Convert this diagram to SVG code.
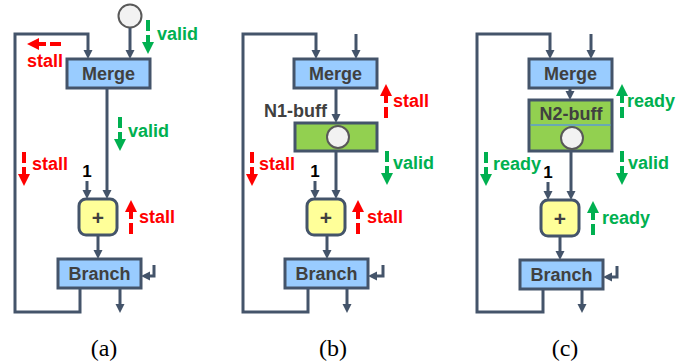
<svg xmlns="http://www.w3.org/2000/svg" xmlns:xlink="http://www.w3.org/1999/xlink" width="688" height="364" viewBox="0 0 688 364">
<style>
.wire{fill:none;stroke:#44546A;stroke-width:3;stroke-linejoin:miter}
.arr{marker-end:url(#ah)}
.box{fill:#99CCFF;stroke:#44546A;stroke-width:3}
.buf{fill:#92D050;stroke:#44546A;stroke-width:3}
.add{fill:#FFFF99;stroke:#44546A;stroke-width:3}
.tok{fill:#F2F2F2;stroke:#595959;stroke-width:2}
.bt{font-family:"Liberation Sans",Arial,sans-serif;font-weight:bold;font-size:18px;fill:#404040;text-anchor:middle}
.lab{font-family:"Liberation Sans",Arial,sans-serif;font-weight:bold;font-size:18px}
.red{fill:#FF0000}
.grn{fill:#00B050}
.one{font-family:"Liberation Sans",Arial,sans-serif;font-weight:bold;font-size:17px;fill:#000;text-anchor:middle}
.cap{font-family:"Liberation Serif","Times New Roman",serif;font-size:24px;fill:#000;text-anchor:middle}
.pl{font-size:21px}
</style>
<defs>
<marker id="ah" markerUnits="userSpaceOnUse" markerWidth="10" markerHeight="10" refX="4" refY="4.5" orient="auto">
<path d="M0,0 L9,4.5 L0,9 z" fill="#44546A"/>
</marker>
<g id="sig">
<rect x="-2" y="0" width="4" height="11"/>
<rect x="-2" y="15" width="4" height="9"/>
<polygon points="-6,22 6,22 0,34"/>
</g>
</defs>

<!-- Panel (a) -->
<g id="a-merge"><rect class="box" x="67" y="59" width="83" height="29"/><text class="bt" x="108.5" y="80">Merge</text></g>
<g id="a-token"><circle class="tok" cx="130" cy="16" r="11.5"/></g>
<g id="a-add"><rect class="add" x="79" y="199" width="38" height="36" rx="7"/><text class="bt pl" x="98" y="225">+</text></g>
<g id="a-branch"><rect class="box" x="58" y="259" width="83" height="29"/><text class="bt" x="99.5" y="280">Branch</text></g>
<g id="a-one"><text class="one" x="87" y="177">1</text></g>
<g id="a-connectors">
<polyline class="wire arr" points="80,288 80,312 15,312 15,34 88,34 88,54"/>
<line class="wire arr" x1="130" y1="28" x2="130" y2="54"/>
<line class="wire arr" x1="107" y1="88" x2="107" y2="194"/>
<line class="wire arr" x1="87" y1="181" x2="87" y2="194"/>
<line class="wire arr" x1="98" y1="235" x2="98" y2="254"/>
<polyline class="wire arr" points="154,265 154,276 146,276"/>
<line class="wire arr" x1="120" y1="288" x2="120" y2="308"/>
</g>
<g id="a-signals">
<use xlink:href="#sig" href="#sig" class="grn" transform="translate(148,20)"/>
<text class="lab grn" x="157" y="40">valid</text>
<use xlink:href="#sig" href="#sig" class="grn" transform="translate(120,117)"/>
<text class="lab grn" x="128" y="137">valid</text>
<use xlink:href="#sig" href="#sig" class="red" transform="translate(61,44) rotate(90)"/>
<text class="lab red" x="27" y="67">stall</text>
<use xlink:href="#sig" href="#sig" class="red" transform="translate(24,152)"/>
<text class="lab red" x="32" y="170">stall</text>
<use xlink:href="#sig" href="#sig" class="red" transform="translate(131,234) rotate(180)"/>
<text class="lab red" x="139" y="223">stall</text>
</g>
<text class="cap" x="104" y="356">(a)</text>

<!-- Panel (b) -->
<g id="b-merge"><rect class="box" x="294" y="59" width="83" height="29"/><text class="bt" x="335.5" y="80">Merge</text></g>
<g id="b-buff"><rect class="buf" x="295" y="123" width="82" height="28"/><circle class="tok" cx="338" cy="137" r="11"/><text class="lab" x="264" y="117" style="fill:#404040">N1-buff</text></g>
<g id="b-add"><rect class="add" x="307" y="199" width="38" height="36" rx="7"/><text class="bt pl" x="326" y="225">+</text></g>
<g id="b-branch"><rect class="box" x="285" y="259" width="83" height="29"/><text class="bt" x="326.5" y="280">Branch</text></g>
<g id="b-one"><text class="one" x="315" y="177">1</text></g>
<g id="b-connectors">
<polyline class="wire arr" points="308,288 308,312 243,312 243,34 316,34 316,54"/>
<line class="wire arr" x1="356" y1="34" x2="356" y2="54"/>
<line class="wire arr" x1="336" y1="88" x2="336" y2="118"/>
<line class="wire arr" x1="336" y1="151" x2="336" y2="194"/>
<line class="wire arr" x1="315" y1="181" x2="315" y2="194"/>
<line class="wire arr" x1="327" y1="235" x2="327" y2="254"/>
<polyline class="wire arr" points="383,265 383,276 373,276"/>
<line class="wire arr" x1="347" y1="288" x2="347" y2="308"/>
</g>
<g id="b-signals">
<use xlink:href="#sig" href="#sig" class="red" transform="translate(386,118) rotate(180)"/>
<text class="lab red" x="393" y="107">stall</text>
<use xlink:href="#sig" href="#sig" class="grn" transform="translate(387,151)"/>
<text class="lab grn" x="393" y="169">valid</text>
<use xlink:href="#sig" href="#sig" class="red" transform="translate(252,152)"/>
<text class="lab red" x="259" y="170">stall</text>
<use xlink:href="#sig" href="#sig" class="red" transform="translate(358,234) rotate(180)"/>
<text class="lab red" x="367" y="223">stall</text>
</g>
<text class="cap" x="333" y="356">(b)</text>

<!-- Panel (c) -->
<g id="c-merge"><rect class="box" x="529" y="59" width="83" height="29"/><text class="bt" x="570.5" y="80">Merge</text></g>
<g id="c-buff"><rect class="buf" x="529" y="100" width="83" height="51"/><line x1="530.5" y1="125" x2="610.5" y2="125" stroke="#5B9BD5" stroke-width="1.5"/><text class="bt" x="571" y="120">N2-buff</text><circle class="tok" cx="572" cy="138" r="11"/></g>
<g id="c-add"><rect class="add" x="541" y="200" width="38" height="36" rx="7"/><text class="bt pl" x="560" y="226">+</text></g>
<g id="c-branch"><rect class="box" x="520" y="260" width="83" height="29"/><text class="bt" x="561.5" y="281">Branch</text></g>
<g id="c-one"><text class="one" x="548" y="178">1</text></g>
<g id="c-connectors">
<polyline class="wire arr" points="543,289 543,312 477,312 477,34 550,34 550,54"/>
<line class="wire arr" x1="591" y1="34" x2="591" y2="54"/>
<line class="wire arr" x1="570" y1="88" x2="570" y2="95"/>
<line class="wire arr" x1="571" y1="151" x2="571" y2="195"/>
<line class="wire arr" x1="548" y1="182" x2="548" y2="195"/>
<line class="wire arr" x1="560" y1="236" x2="560" y2="255"/>
<polyline class="wire arr" points="617,266 617,277 608,277"/>
<line class="wire arr" x1="582" y1="289" x2="582" y2="308"/>
</g>
<g id="c-signals">
<use xlink:href="#sig" href="#sig" class="grn" transform="translate(622,118) rotate(180)"/>
<text class="lab grn" x="627" y="107">ready</text>
<use xlink:href="#sig" href="#sig" class="grn" transform="translate(622,151)"/>
<text class="lab grn" x="628" y="169">valid</text>
<use xlink:href="#sig" href="#sig" class="grn" transform="translate(486,152)"/>
<text class="lab grn" x="493" y="170">ready</text>
<use xlink:href="#sig" href="#sig" class="grn" transform="translate(593,235) rotate(180)"/>
<text class="lab grn" x="602" y="224">ready</text>
</g>
<text class="cap" x="565" y="356">(c)</text>
</svg>
